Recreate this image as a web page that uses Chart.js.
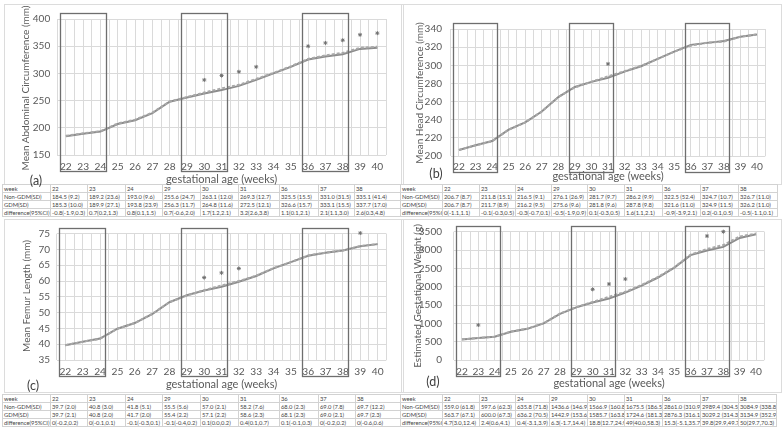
<!DOCTYPE html>
<html><head><meta charset="utf-8">
<script src="https://cdn.jsdelivr.net/npm/chart.js@4/dist/chart.umd.min.js"></script>
<style>
html,body{margin:0;padding:0;background:#fff;}
body{width:784px;height:429px;position:relative;overflow:hidden;font-family:Lato,'Liberation Sans',sans-serif;}
.frame{position:absolute;border:1px solid #dcdcdc;box-sizing:border-box;z-index:0;}
.cv{position:absolute;z-index:3;}
.tag{position:absolute;font-size:12.5px;color:#404040;transform:translate(-50%,-50%);z-index:4;white-space:nowrap;}
.ytitle{position:absolute;font-size:10px;color:#595959;transform:translate(-50%,-50%) rotate(-90deg);z-index:4;white-space:nowrap;}
table{position:absolute;border-collapse:collapse;table-layout:fixed;font-size:5.8px;color:#444;z-index:1;background:#fff;}
td{border:1px solid #d2d2d2;height:7px;padding:0 0 0 1px;white-space:nowrap;overflow:hidden;line-height:7px;}
</style></head>
<body>
<div class="frame" style="left:4px;top:4px;width:400px;height:181px"></div>
<div class="frame" style="left:401px;top:4px;width:381px;height:181px"></div>
<div class="frame" style="left:4px;top:219px;width:400px;height:174px"></div>
<div class="frame" style="left:401px;top:219px;width:381px;height:174px"></div>

<canvas id="ca" class="cv" width="392" height="187" style="left:0;top:0"></canvas>
<canvas id="cb" class="cv" width="392" height="187" style="left:392px;top:0"></canvas>
<canvas id="cc" class="cv" width="392" height="171" style="left:0;top:221px"></canvas>
<canvas id="cd" class="cv" width="392" height="186" style="left:392px;top:205px"></canvas>

<div class="ytitle" style="left:25px;top:88px">Mean Abdominal Circumference (mm)</div>
<div class="ytitle" style="left:419px;top:93px">Mean Head Circumference (mm)</div>
<div class="ytitle" style="left:26px;top:296px">Mean Femur Length (mm)</div>
<div class="ytitle" style="left:417px;top:296px">Estimated Gestational Weight (g)</div>

<div class="tag" style="left:36px;top:180px">(a)</div>
<div class="tag" style="left:436px;top:173px">(b)</div>
<div class="tag" style="left:33px;top:385px">(c)</div>
<div class="tag" style="left:433px;top:381px">(d)</div>

<script>
// ---------- data ----------
const weeks = [22,23,24,25,26,27,28,29,30,31,32,33,34,35,36,37,38,39,40];

const acNonGdm = [184.5,189.2,193.0,207,214,227,248,255.6,263.1,269.3,277,288,300,312,325.5,331.0,335.1,345,347];
const acGdm    = [185.3,189.9,193.8,208,215,228,248.5,256.3,264.8,272.5,279,290,301,313,326.6,333.1,337.7,347,349];
const acSignif = [null,null,null,null,null,null,null,null,288,296,303,312,null,null,350,356,361,371,374];

const hcNonGdm = [206.7,211.8,216.5,229,237,249,265,276.1,281.7,286.2,293,299,307,315,322.5,324.7,326.7,331.5,334];
const hcGdm    = [206.7,211.7,216.2,229,237,249,265,275.6,281.8,287.8,293.5,299.5,307,315,321.6,324.9,326.2,331.5,334];
const hcSignif = [null,null,null,null,null,null,null,null,null,301.5,null,null,null,null,null,null,null,null,null];

const flNonGdm = [39.7,40.8,41.8,44.9,46.7,49.5,53.3,55.5,57.0,58.2,59.8,61.6,64,66,68.0,69.0,69.7,71,71.7];
const flGdm    = [39.7,40.8,41.7,44.9,46.7,49.6,53.3,55.4,57.1,58.6,60,61.7,64.1,66,68.1,69.0,69.7,71.1,71.7];
const flSignif = [null,null,null,null,null,null,null,null,61.1,62.6,64,null,null,null,null,null,null,75.2,null];

const efwNonGdm = [559.0,597.6,635.8,772,850,1000,1260,1436.6,1566.9,1675.5,1840,2030,2250,2520,2861.0,2989.4,3084.9,3330,3430];
const efwGdm    = [563.7,600.0,636.2,775,855,1005,1265,1442.9,1585.7,1724.6,1860,2050,2265,2530,2876.3,3029.2,3134.9,3370,3450];
const efwSignif = [null,954,null,null,null,null,null,null,1928,2073,2209,null,null,null,null,3382,3500,3744,3950];

const boxStarts = [22,29,36];
const boxEnds   = [24,31,38];

const tableWeeks = ['22','23','24','29','30','31','36','37','38'];
const rowLabels = ['Non-GDM(SD)','GDM(SD)','difference(95%CI)'];

const acTabNon  = ['184.5 (9.2)','189.2 (23.6)','193.0 (9.6)','255.6 (24.7)','263.1 (12.0)','269.3 (12.7)','325.5 (15.5)','331.0 (31.5)','335.1 (41.4)'];
const acTabGdm  = ['185.3 (10.0)','189.9 (27.1)','193.8 (23.9)','256.3 (11.7)','264.8 (11.6)','272.5 (12.1)','326.6 (15.7)','333.1 (15.5)','337.7 (17.0)'];
const acTabDiff = ['-0.8(-1.9,0.3)','0.7(0.2,1.3)','0.8(0.1,1.5)','0.7(-0.6,2.0)','1.7(1.2,2.1)','3.2(2.6,3.8)','1.1(0.1,2.1)','2.1(1.1,3.0)','2.6(0.3,4.8)'];

const hcTabNon  = ['206.7 (8.7)','211.8 (15.1)','216.5 (9.1)','276.1 (26.9)','281.7 (9.7)','286.2 (9.9)','322.5 (52.4)','324.7 (10.7)','326.7 (11.0)'];
const hcTabGdm  = ['206.7 (8.7)','211.7 (8.9)','216.2 (9.5)','275.6 (9.6)','281.8 (9.6)','287.8 (9.8)','321.6 (11.0)','324.9 (11.5)','326.2 (11.0)'];
const hcTabDiff = ['0(-1.1,1.1)','-0.1(-0.3,0.5)','-0.3(-0.7,0.1)','-0.5(-1.9,0.9)','0.1(-0.3,0.5)','1.6(1.1,2.1)','-0.9(-3.9,2.1)','0.2(-0.1,0.5)','-0.5(-1.1,0.1)'];

const flTabNon  = ['39.7 (2.0)','40.8 (3.0)','41.8 (5.1)','55.5 (5.6)','57.0 (2.1)','58.2 (7.6)','68.0 (2.3)','69.0 (7.8)','69.7 (12.2)'];
const flTabGdm  = ['39.7 (2.1)','40.8 (2.0)','41.7 (2.0)','55.4 (2.2)','57.1 (2.2)','58.6 (2.3)','68.1 (2.3)','69.0 (2.1)','69.7 (2.3)'];
const flTabDiff = ['0(-0.2,0.2)','0(-0.1,0.1)','-0.1(-0.3,0.1)','-0.1(-0.4,0.2)','0.1(0.0,0.2)','0.4(0.1,0.7)','0.1(-0.1,0.3)','0(-0.2,0.2)','0(-0.6,0.6)'];

const efwTabNon  = ['559.0 (61.8)','597.6 (62.3)','635.8 (71.8)','1436.6 (146.9)','1566.9 (160.8)','1675.5 (186.5)','2861.0 (310.9)','2989.4 (304.5)','3084.9 (338.8)'];
const efwTabGdm  = ['563.7 (67.1)','600.0 (67.3)','636.2 (70.5)','1442.9 (153.6)','1585.7 (163.8)','1724.6 (181.3)','2876.3 (316.1)','3029.2 (314.3)','3134.9 (352.9)'];
const efwTabDiff = ['4.7(3.0,12.4)','2.4(0.6,4.1)','0.4(-3.1,3.9)','6.3(-1.7,14.4)','18.8(12.7,24.9)','49(40.0,58.3)','15.3(-5.1,35.7)','39.8(29.9,49.7)','50(29.7,70.3)'];

// ---------- rendering ----------
const FONT = 'Lato, "Liberation Sans", sans-serif';
const TXT = '#595959';

const boxPlugin = {
  id: 'weekBoxes',
  afterDatasetsDraw(chart, args, o) {
    const {ctx, chartArea, scales} = chart;
    const x = scales.x;
    ctx.save();
    ctx.strokeStyle = o.color;
    ctx.lineWidth = o.width;
    const top = chartArea.top - 6, bottom = chartArea.bottom + 16;
    for (let i = 0; i < o.starts.length; i++) {
      const l = x.getPixelForValue(o.starts[i] - 0.35);
      const r = x.getPixelForValue(o.ends[i] + 0.32);
      ctx.strokeRect(Math.round(l) + 0.5, Math.round(top) + 0.5, Math.round(r - l), Math.round(bottom - top));
    }
    ctx.restore();
  }
};
Chart.register(boxPlugin);

function halfSteps() { const a = []; for (let v = 21.5; v <= 40.5 + 1e-9; v += 0.5) a.push({value: v}); return a; }

function makeChart(id, s) {
  new Chart(document.getElementById(id), {
    type: 'line',
    data: { datasets: [
      {label: 'Non-GDM', data: weeks.map((w, i) => ({x: w, y: s.non[i]})), borderColor: '#8c8c8c', borderWidth: 2, pointRadius: 0, tension: 0, order: 2},
      {label: 'GDM', data: weeks.map((w, i) => ({x: w, y: s.gdm[i]})), borderColor: '#a8a8a8', borderWidth: 2, borderDash: [3, 2], pointRadius: 0, tension: 0, order: 1},
      {label: 'significant', data: weeks.map((w, i) => ({x: w, y: s.sig[i]})), showLine: false, pointStyle: 'star', pointRadius: 2, borderColor: '#707070', backgroundColor: '#707070', borderWidth: 1, clip: false, order: 0}
    ]},
    options: {
      responsive: false, animation: false, devicePixelRatio: 1,
      layout: {padding: {left: 0, right: s.pr, top: s.pt, bottom: 0}},
      plugins: {legend: {display: false}, tooltip: {enabled: false},
        weekBoxes: {starts: boxStarts, ends: boxEnds, color: '#6e6e6e', width: 1.3}},
      scales: {
        x: {type: 'linear', min: 21.5, max: 40.5,
          afterBuildTicks: ax => { ax.ticks = halfSteps(); },
          afterFit: sc => { sc.height = s.xh; },
          grid: {color: '#dadada', drawTicks: false, lineWidth: 1},
          border: {display: false},
          ticks: {autoSkip: false, maxRotation: 0, padding: s.xtp, color: TXT, font: {family: FONT, size: 10.2},
            callback: v => Number.isInteger(v) ? String(v) : ''},
          title: {display: true, text: 'gestational age (weeks)', color: TXT, font: {family: FONT, size: 11}, padding: {top: 0, bottom: s.xtt}}
        },
        y: {min: s.min, max: s.max,
          afterFit: sc => { sc.width = s.yw; },
          grid: {color: '#dadada', drawTicks: false, lineWidth: 1},
          border: {display: false},
          ticks: {stepSize: s.step, padding: s.ytp, color: TXT, font: {family: FONT, size: 10}, callback: v => String(v)},
          title: {display: false}
        }
      }
    }
  });
}

makeChart('ca', {non: acNonGdm, gdm: acGdm, sig: acSignif, min: 150, max: 400, step: 50,
  yw: 57.2, pr: 1.2, pt: 19, xh: 32, xtp: 6, xtt: 1, ytp: 7});
makeChart('cb', {non: hcNonGdm, gdm: hcGdm, sig: hcSignif, min: 200, max: 340, step: 20,
  yw: 58.7, pr: 18.7, pt: 29, xh: 31, xtp: 5, xtt: 4.3, ytp: 8.7});
makeChart('cc', {non: flNonGdm, gdm: flGdm, sig: flSignif, min: 35, max: 75, step: 5,
  yw: 56.7, pr: 1.2, pt: 10, xh: 32, xtp: 5.7, xtt: 1, ytp: 6.7});
makeChart('cd', {non: efwNonGdm, gdm: efwGdm, sig: efwSignif, min: 0, max: 3500, step: 500,
  yw: 61.8, pr: 19.8, pt: 26.7, xh: 31, xtp: 5.7, xtt: 1, ytp: 11.8});

function buildTable(bounds, top, non, gdm, diff) {
  const t = document.createElement('table');
  t.style.left = bounds[0] + 'px';
  t.style.top = top + 'px';
  t.style.width = (bounds[bounds.length - 1] - bounds[0]) + 'px';
  const cg = document.createElement('colgroup');
  for (let i = 1; i < bounds.length; i++) {
    const c = document.createElement('col');
    c.style.width = (bounds[i] - bounds[i - 1]) + 'px';
    cg.appendChild(c);
  }
  t.appendChild(cg);
  const rows = [['week'].concat(tableWeeks), [rowLabels[0]].concat(non), [rowLabels[1]].concat(gdm), [rowLabels[2]].concat(diff)];
  rows.forEach(r => {
    const tr = document.createElement('tr');
    r.forEach(c => { const td = document.createElement('td'); td.textContent = c; tr.appendChild(td); });
    t.appendChild(tr);
  });
  document.body.appendChild(t);
}
buildTable([2,50,87,125,162,200,238,279,318,354,400], 184, acTabNon, acTabGdm, acTabDiff);
buildTable([400,442,479,515,551,587,624,662,700,738,777], 184, hcTabNon, hcTabGdm, hcTabDiff);
buildTable([2,50,87,125,162,200,238,279,318,355,400], 394, flTabNon, flTabGdm, flTabDiff);
buildTable([400,442,479,515,549,587,624,662,700,738,776], 394, efwTabNon, efwTabGdm, efwTabDiff);
</script>
</body></html>
